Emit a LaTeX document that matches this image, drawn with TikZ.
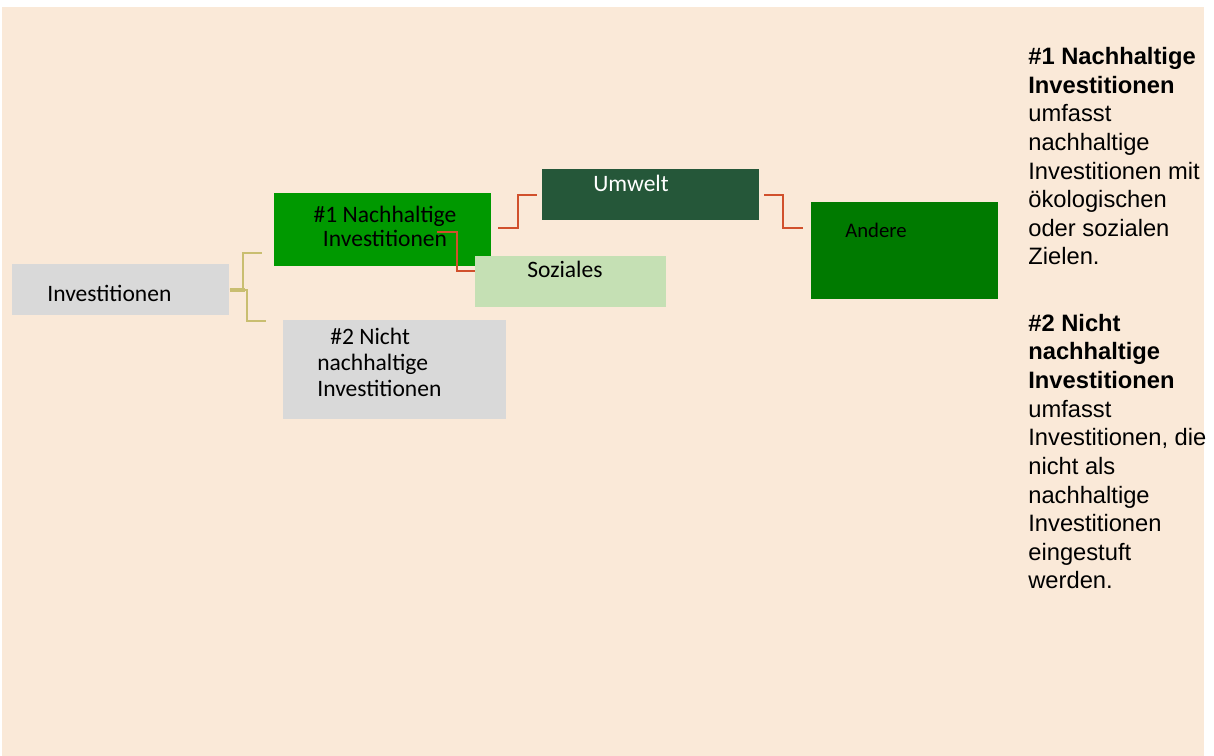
\documentclass[tikz,border=0pt]{standalone}
\usepackage{fontspec}
\setmainfont{Carlito}
\newfontfamily\notefont{Liberation Sans}
\usetikzlibrary{positioning}

\definecolor{canvas}{RGB}{250,233,216}
\definecolor{boxgray}{RGB}{217,217,217}
\definecolor{nhgreen}{RGB}{0,153,0}
\definecolor{umwgreen}{RGB}{37,87,57}
\definecolor{sozgreen}{RGB}{197,224,180}
\definecolor{andgreen}{RGB}{0,122,0}
\definecolor{goldline}{RGB}{201,190,112}
\definecolor{redline}{RGB}{209,80,44}

\tikzset{
  box/.style={rectangle, draw=none, inner sep=0pt, anchor=north west},
  boxtext/.style={inner sep=0pt, anchor=base west, font=\fontsize{13.4}{15}\selectfont},
  note/.style={inner sep=0pt, anchor=base west, align=left, font=\notefont\fontsize{13.5}{16.3}\selectfont},
  goldconn/.style={draw=goldline, line width=1.2pt},
  redconn/.style={draw=redline, line width=1.1pt}
}

\begin{document}
\begin{tikzpicture}[x=0.02cm,y=-0.02cm]
  \useasboundingbox (0,0) rectangle (1214,756);
  \fill[canvas] (2,7) rectangle (1204,756);

  % boxes
  \node[box, fill=boxgray, minimum width=4.34cm, minimum height=1.02cm] (inv) at (12,264) {};
  \node[box, fill=nhgreen, minimum width=4.34cm, minimum height=1.46cm] (nh) at (274,193) {};
  \node[box, fill=boxgray, minimum width=4.46cm, minimum height=1.98cm] (nnh) at (283,320) {};
  \node[box, fill=umwgreen, minimum width=4.34cm, minimum height=1.02cm] (umw) at (542,169) {};
  \node[box, fill=andgreen, minimum width=3.74cm, minimum height=1.94cm] (and) at (811,202) {};

  % connectors
  \coordinate (g1) at (262,253);
  \coordinate (g2) at (266,321);
  \draw[goldconn] (inv.east) -- ++(13,0) |- (g1);
  \draw[goldconn] (inv.east) -- ++(17,0) |- (g2);
  \draw[goldconn, line width=2.4pt] (inv.east) -- ++(15,0);
  \coordinate (r1s) at (498,228);
  \coordinate (r1e) at (537,195);
  \draw[redconn] (r1s) -- ++(20,0) |- (r1e);
  \coordinate (r2s) at (437,232);
  \coordinate (r2e) at (475,271);
  \draw[redconn] (r2s) -- ++(20,0) |- (r2e);
  \coordinate (r3s) at (764,195);
  \coordinate (r3e) at (803,228);
  \draw[redconn] (r3s) -- ++(19,0) |- (r3e);

  \node[box, fill=sozgreen, minimum width=3.82cm, minimum height=1.02cm] (soz) at (475,256) {};

  % labels
  \node[boxtext] (invtext) at (47,302) {Investitionen};
  \node[boxtext, anchor=base, align=center, font=\fontsize{13.4}{14.2}\selectfont] (nhtext) at (385,247) {\#1 Nachhaltige\\Investitionen};
  \node[boxtext, align=left] (nnhtext) at (317,397) {\hspace*{7.4pt}\#2 Nicht\\nachhaltige\\Investitionen};
  \node[boxtext, text=white] (umwtext) at (593,192) {Umwelt};
  \node[boxtext] (soztext) at (527,278) {Soziales};
  \node[boxtext, font=\fontsize{11.8}{14}\selectfont] (andtext) at (845,238) {Andere};

  % notes
  \node[note] (note1) at (1028,265) {\textbf{\#1 Nachhaltige}\\\textbf{Investitionen}\\umfasst\\nachhaltige\\Investitionen mit\\ökologischen\\oder sozialen\\Zielen.};
  \node[note] (note2) at (1028,589) {\textbf{\#2 Nicht}\\\textbf{nachhaltige}\\\textbf{Investitionen}\\umfasst\\Investitionen, die\\nicht als\\nachhaltige\\Investitionen\\eingestuft\\werden.};
\end{tikzpicture}
\end{document}
